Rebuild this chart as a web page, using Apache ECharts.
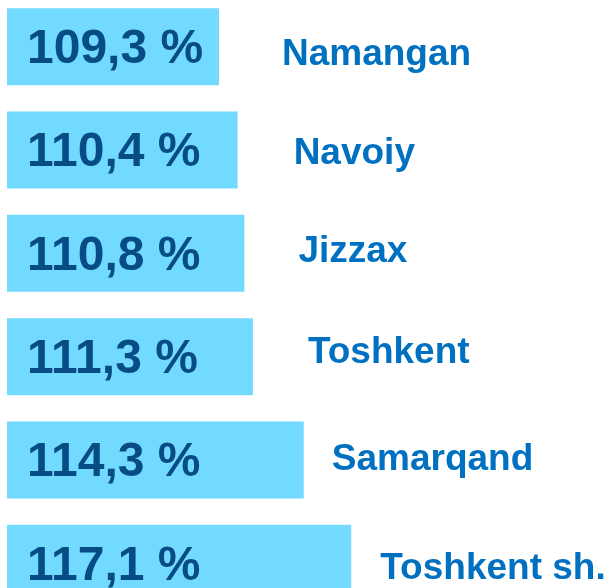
<!DOCTYPE html>
<html>
<head>
<meta charset="utf-8">
<script src="https://cdn.jsdelivr.net/npm/echarts@6/dist/echarts.min.js"></script>
<style>
html, body { margin: 0; padding: 0; background: #fff; }
#chart { width: 609px; height: 588px; }
</style>
</head>
<body>
<div id="chart"></div>
<script>
// regions, top to bottom
var regions = ["Namangan", "Navoiy", "Jizzax", "Toshkent", "Samarqand", "Toshkent sh."];
var growth = [109.3, 110.4, 110.8, 111.3, 114.3, 117.1];

// gap between bar end and region name, and vertical nudge of the name
var nameGap = [63, 56, 54, 55, 28, 29];
var nameShift = [8, 3.5, -2, -3.5, 0, 5];

var chart = echarts.init(document.getElementById("chart"));

var option = {
    animation: false,
    grid: { left: 7, right: 0, top: -5, bottom: -27, outerBoundsMode: "none" },
    xAxis: {
        type: "value",
        min: 96.8,
        max: 132.3,
        show: false
    },
    yAxis: {
        type: "category",
        inverse: true,
        data: regions,
        show: false
    },
    series: [
        {
            type: "bar",
            barWidth: 77,
            itemStyle: { color: "#72D9FF" },
            label: {
                show: true,
                position: "insideLeft",
                distance: 20,
                offset: [0, 3],
                color: "#074C85",
                fontFamily: "Liberation Sans",
                fontWeight: "bold",
                fontSize: 48,
                formatter: function (p) {
                    return String(p.value).replace(".", ",") + " %";
                }
            },
            data: growth
        },
        {
            type: "bar",
            barWidth: 77,
            barGap: "-100%",
            silent: true,
            itemStyle: { color: "transparent" },
            data: growth.map(function (v, i) {
                return {
                    value: v,
                    label: {
                        show: true,
                        position: "right",
                        distance: nameGap[i],
                        offset: [0, nameShift[i]],
                        color: "#0070C0",
                        fontFamily: "Liberation Sans",
                        fontWeight: "bold",
                        fontSize: 37,
                        formatter: regions[i]
                    }
                };
            })
        }
    ]
};

chart.setOption(option);
</script>
</body>
</html>
